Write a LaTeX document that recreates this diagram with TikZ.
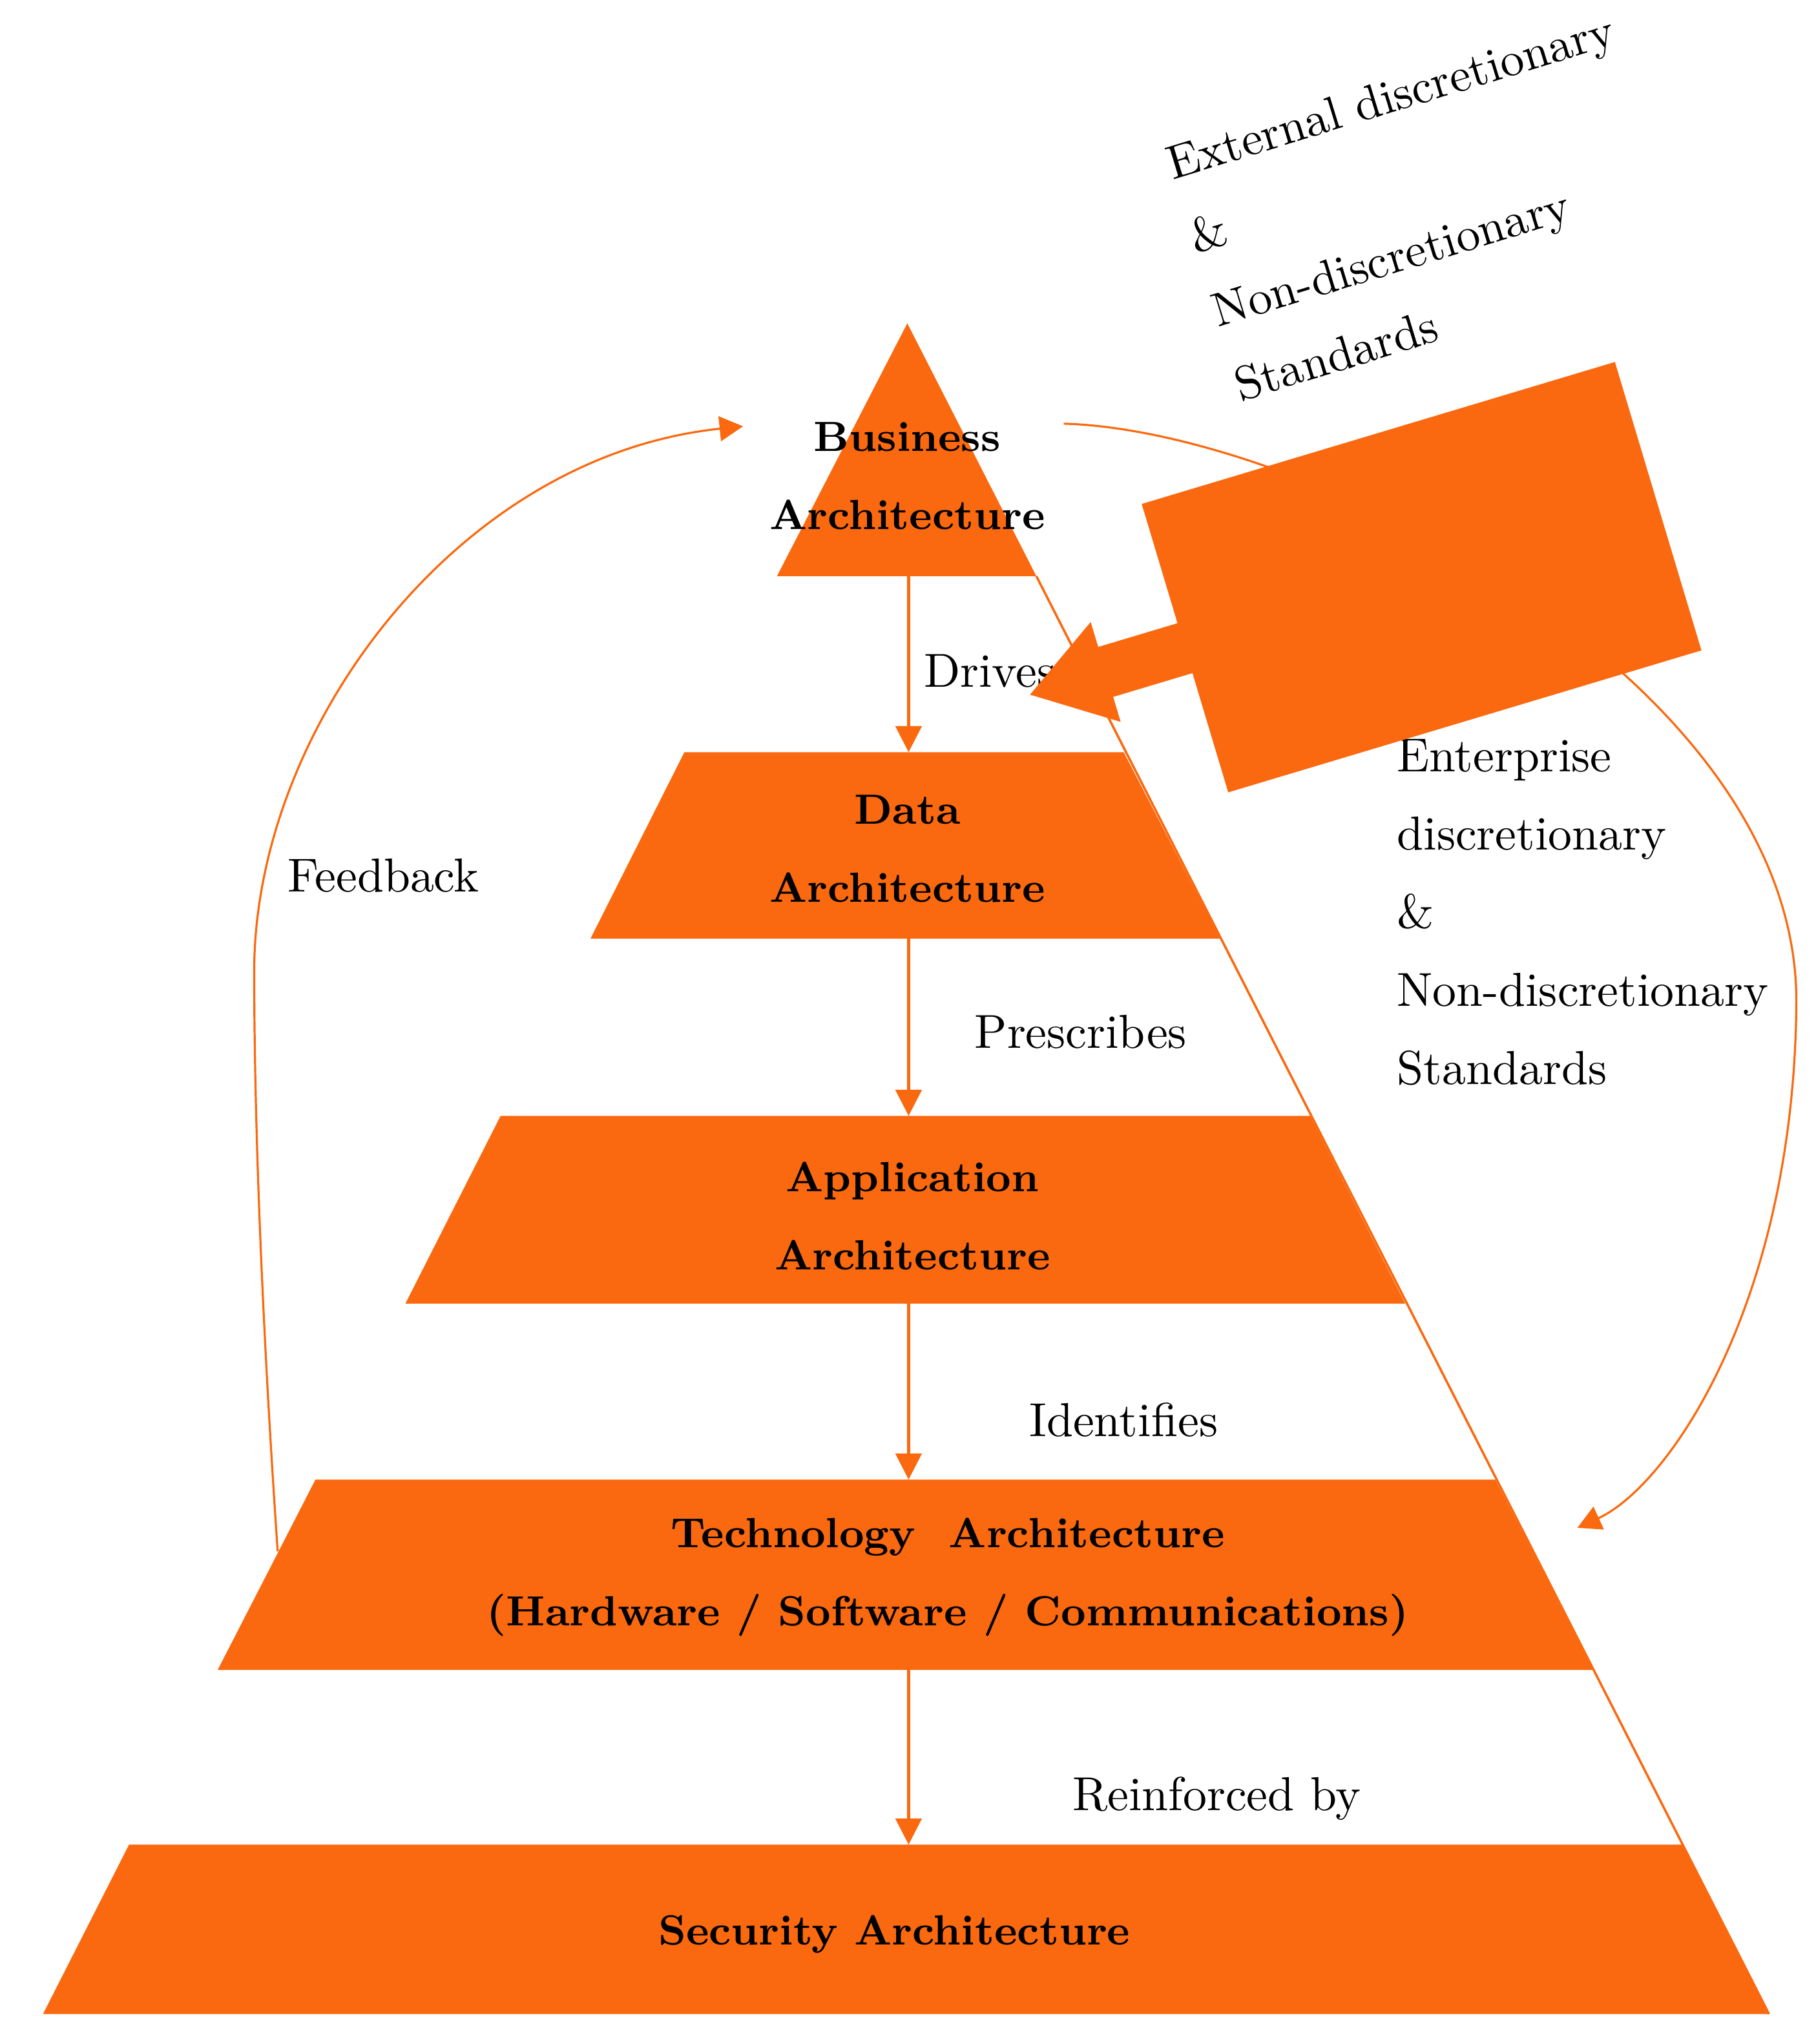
\documentclass[tikz,border=0pt]{standalone}
\usepackage{fontspec}
\usetikzlibrary{arrows.meta}
\definecolor{archorange}{RGB}{250,105,15}

\begin{document}
\begin{tikzpicture}[
  x=0.01cm, y=-0.01cm,
  layer/.style={fill=archorange},
  layertext/.style={font=\fontsize{9.2}{17.07}\selectfont\bfseries, align=center},
  note/.style={font=\fontsize{10.4}{17.07}\selectfont, inner sep=0pt},
  flow/.style={draw=archorange, line width=0.6pt, -{Triangle[length=2mm, width=2mm]}},
  loop/.style={draw=archorange, line width=0.45pt, -{Triangle[length=1.8mm, width=1.9mm]}}
]
\useasboundingbox (0,0) rectangle (1393,1568);

% corners of the pyramid
\coordinate (biz-top) at (696,248);
\coordinate (biz-left) at (596,442);
\coordinate (biz-right) at (795,442);
\coordinate (sec-right) at (1357,1545);

\draw[draw=archorange, line width=0.5pt] (biz-right) -- (sec-right);

% layers of the pyramid
\fill[layer] (biz-top) -- (biz-right) -- (biz-left) -- cycle;
\fill[layer] (525,577) -- (862,577) -- (936,720) -- (453,720) -- cycle;
\fill[layer] (384,856) -- (1005,856) -- (1078,1000) -- (311,1000) -- cycle;
\fill[layer] (242,1135) -- (1147,1135) -- (1222,1281) -- (167,1281) -- cycle;
\fill[layer] (99,1415) -- (1290,1415) -- (sec-right) -- (33,1545) -- cycle;

\coordinate (biz-s) at (697,442);
\coordinate (data-n) at (697,577);
\coordinate (data-s) at (697,720);
\coordinate (app-n) at (697,856);
\coordinate (app-s) at (697,1000);
\coordinate (tech-n) at (697,1135);
\coordinate (tech-s) at (697,1281);
\coordinate (sec-n) at (697,1415);

\node[layertext] (biz) at (696,365) {Business\\Architecture};
\node[layertext] (data) at (696,651) {Data\\Architecture};
\node[layertext] (app) at (700,933) {Application\\Architecture};
\node[layertext] (tech) at (727,1210) {Technology~ Architecture\\(Hardware / Software / Communications)};
\node[layertext] (sec) at (686,1484) {Security Architecture};

% links between layers
\draw[flow] (biz-s) -- (data-n);
\draw[flow] (data-s) -- (app-n);
\draw[flow] (app-s) -- (tech-n);
\draw[flow] (tech-s) -- (sec-n);

\node[note, anchor=base west] (drives) at (708,527) {Drives};
\node[note, anchor=base west] (prescribes) at (747,804) {Prescribes};
\node[note, anchor=base west] (identifies) at (789,1102) {Identifies};
\node[note, anchor=base west] (reinforced) at (822,1389) {Reinforced by};

% feedback loop
\coordinate (fb-start) at (213,1190);
\coordinate (fb-end) at (570,327);
\draw[loop] (fb-start) .. controls (200,1000) and (195,850) .. (195,745)
  .. controls (195,560) and (350,350) .. (fb-end);
\node[note, anchor=base west] (feedback) at (220,684) {Feedback};

% standards loop
\coordinate (std-start) at (816,325);
\coordinate (std-end) at (1210,1172);
\draw[loop] (std-start) .. controls (1000,330) and (1380,520) .. (1378,770)
  .. controls (1376,1000) and (1280,1140) .. (std-end);

\foreach \line [count=\i from 0] in {External discretionary, \&, Non-discretionary, Standards}
  \node[note, rotate=17, anchor=base west] (ext-\i) at (899+17.3*\i, 138+56.7*\i) {\line};
\foreach \line [count=\i from 0] in {Enterprise, discretionary, \&, Non-discretionary, Standards}
  \node[note, anchor=base west] (ent-\i) at (1071, 592+60*\i) {\line};

% standards block pointing at the pyramid
\begin{scope}[shift={(1090.5,442.75)}, rotate=16.7]
  \fill[layer] (-189.5,-115.5) -- (189.5,-115.5) -- (189.5,115.5) -- (-189.5,115.5)
    -- (-189.5,20) -- (-253,20) -- (-253,40) -- (-313.6,0) -- (-253,-40) -- (-253,-20)
    -- (-189.5,-20) -- cycle;
\end{scope}
\end{tikzpicture}
\end{document}
